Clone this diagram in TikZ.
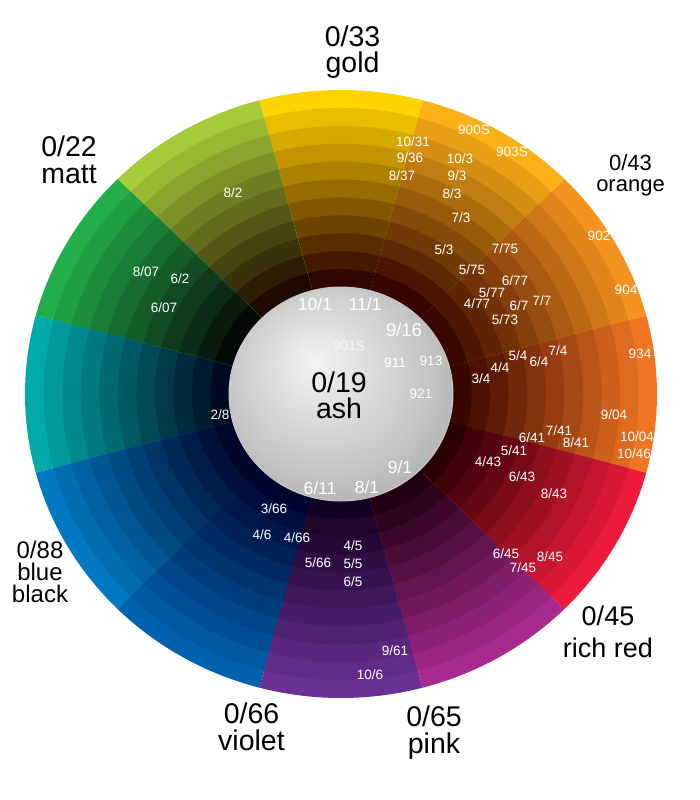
\documentclass[tikz,border=0pt]{standalone}
\usepackage{fontspec}
\setmainfont{Liberation Sans}
\lineskiplimit=-100pt

\definecolor{orgout}{HTML}{F07522}\definecolor{orgin}{HTML}{3A0600}
\definecolor{ornout}{HTML}{F4921F}\definecolor{ornin}{HTML}{3A0800}
\definecolor{ambout}{HTML}{FAB118}\definecolor{ambin}{HTML}{360500}
\definecolor{gldout}{HTML}{FFD200}\definecolor{gldin}{HTML}{300400}
\definecolor{ygrout}{HTML}{A6CB3A}\definecolor{ygrin}{HTML}{200A00}
\definecolor{grnout}{HTML}{23AE4A}\definecolor{grnin}{HTML}{060A06}
\definecolor{tealout}{HTML}{00AAAA}\definecolor{tealin}{HTML}{000A20}
\definecolor{bluout}{HTML}{0079C0}\definecolor{bluin}{HTML}{00052A}
\definecolor{bldout}{HTML}{0062AE}\definecolor{bldin}{HTML}{000530}
\definecolor{vioout}{HTML}{6A3096}\definecolor{vioin}{HTML}{140020}
\definecolor{magout}{HTML}{A72A8E}\definecolor{magin}{HTML}{200012}
\definecolor{redout}{HTML}{EC1B3B}\definecolor{redin}{HTML}{2C0002}
\definecolor{ashhi}{HTML}{F4F4F4}\definecolor{ashmid}{HTML}{C6C6C6}
\definecolor{ashlo}{HTML}{868686}

\pgfdeclareradialshading{ashball}{\pgfpoint{-6bp}{8bp}}{color(0bp)=(ashhi); color(22bp)=(ashmid); color(50bp)=(ashlo)}

\begin{document}
\begin{tikzpicture}[x=1pt,y=-1pt,
hue label/.style = {inner sep=0pt, anchor=north, align=center, text=black},
code label/.style = {inner sep=0pt, text=white, font=\fontsize{13.5}{15}\selectfont},
big code/.style = {inner sep=0pt, text=white, font=\fontsize{17.5}{19}\selectfont}]

\useasboundingbox (0,0) rectangle (700,800);

% the wheel: twelve hues, eleven tones each
\begin{scope}[shift={(341,394)},yscale=-1]
\foreach \s/\co/\ci in {0/orgout/orgin,1/ornout/ornin,2/ambout/ambin,3/gldout/gldin,
  4/ygrout/ygrin,5/grnout/grnin,6/tealout/tealin,7/bluout/bluin,
  8/bldout/bldin,9/vioout/vioin,10/magout/magin,11/redout/redin}{
  \foreach \k in {11,10,...,1}{
    \pgfmathsetmacro\rx{112+\k*204/11}
    \pgfmathsetmacro\ry{107+\k*197/11}
    \pgfmathtruncatemacro\p{(\k-1)*10}
    \pgfmathsetmacro\a{\s*30-15}
    \fill[\co!\p!\ci] (0,0) -- ({\a}:{\rx} and {\ry})
      arc[start angle=\a, delta angle=30, x radius=\rx, y radius=\ry] -- cycle;
  }
}
% ash centre
\shade[shading=ashball] (0,0) ellipse[x radius=112, y radius=107];
\draw[gray!45, line width=1] (0,0) ellipse[x radius=112, y radius=107];
\end{scope}

% hue names
\node[hue label, font=\fontsize{28.5}{26}\selectfont] (gold) at (352.5,26) {0/33\\gold};
\node[hue label, font=\fontsize{28.5}{27}\selectfont] (matt) at (69,136) {0/22\\matt};
\node[hue label, font=\fontsize{22}{21}\selectfont] (orange) at (630.5,154.5) {0/43\\orange};
\node[hue label, font=\fontsize{27}{32}\selectfont] (richred) at (608,605.5) {0/45\\rich red};
\node[hue label, font=\fontsize{28.5}{27}\selectfont] (pink) at (434,706) {0/65\\pink};
\node[hue label, font=\fontsize{28.5}{27}\selectfont] (violet) at (251.5,703) {0/66\\violet};
\node[hue label, font=\fontsize{24}{22}\selectfont] (blueblack) at (40,540.5) {0/88\\blue\\black};
\node[hue label, font=\fontsize{28.5}{26}\selectfont] (ash) at (339,371.5) {0/19\\ash};

% shade codes
\node[code label] (c900S) at (474,130) {900S};
\node[code label] (c903S) at (512,152) {903S};
\node[code label] (c10-31) at (413,142) {10/31};
\node[code label] (c9-36) at (410,158) {9/36};
\node[code label] (c8-37) at (402,176) {8/37};
\node[code label] (c10-3) at (460,159) {10/3};
\node[code label] (c9-3) at (457,176) {9/3};
\node[code label] (c8-3) at (452,194) {8/3};
\node[code label] (c7-3) at (461,218) {7/3};
\node[code label] (c5-3) at (444,250) {5/3};
\node[code label] (c7-75) at (505,249) {7/75};
\node[code label] (c5-75) at (472,270) {5/75};
\node[code label] (c6-77) at (515,281) {6/77};
\node[code label] (c5-77) at (492,293) {5/77};
\node[code label] (c4-77) at (477,304) {4/77};
\node[code label] (c6-7) at (519,306) {6/7};
\node[code label] (c7-7) at (542,301) {7/7};
\node[code label] (c5-73) at (505,320) {5/73};
\node[code label] (c902) at (599,236) {902};
\node[code label] (c904) at (626,290) {904};
\node[code label] (c934) at (640,354) {934};
\node[code label] (c7-4) at (558,351) {7/4};
\node[code label] (c5-4) at (518,356) {5/4};
\node[code label] (c6-4) at (539,362) {6/4};
\node[code label] (c4-4) at (500,368) {4/4};
\node[code label] (c3-4) at (481,379) {3/4};
\node[code label] (c9-04) at (614,415) {9/04};
\node[code label] (c10-04) at (637,437) {10/04};
\node[code label] (c10-46) at (634,454) {10/46};
\node[code label] (c7-41) at (559,431) {7/41};
\node[code label] (c6-41) at (532,438) {6/41};
\node[code label] (c8-41) at (576,443) {8/41};
\node[code label] (c5-41) at (514,451) {5/41};
\node[code label] (c4-43) at (488,462) {4/43};
\node[code label] (c6-43) at (522,477) {6/43};
\node[code label] (c8-43) at (554,494) {8/43};
\node[code label] (c6-45) at (506,554) {6/45};
\node[code label] (c8-45) at (550,557) {8/45};
\node[code label] (c7-45) at (523,568) {7/45};
\node[code label] (c9-61) at (395,651) {9/61};
\node[code label] (c10-6) at (370,675) {10/6};
\node[code label] (c4-5) at (353,546) {4/5};
\node[code label] (c5-5) at (353,564) {5/5};
\node[code label] (c6-5) at (353,582) {6/5};
\node[code label] (c5-66) at (318,563) {5/66};
\node[code label] (c4-66) at (297,538) {4/66};
\node[code label] (c4-6) at (262,535) {4/6};
\node[code label] (c3-66) at (274,509) {3/66};
\node[code label] (c2-8) at (220,415) {2/8};
\node[code label] (c6-07) at (164,308) {6/07};
\node[code label] (c8-07) at (146,272) {8/07};
\node[code label] (c6-2) at (180,279) {6/2};
\node[code label] (c8-2) at (233,193) {8/2};

% codes on the ash ball
\node[big code] (c10-1) at (315,304) {10/1};
\node[big code] (c11-1) at (365,304) {11/1};
\node[big code,font=\fontsize{18.5}{20}\selectfont] (c9-16) at (404,330) {9/16};
\node[code label,text=white!92!gray] (c901S) at (349,346) {901S};
\node[code label] (c911) at (395,363) {911};
\node[code label] (c913) at (431,361) {913};
\node[code label] (c921) at (421,394) {921};
\node[big code] (c9-1) at (400,467) {9/1};
\node[big code] (c6-11) at (320,488) {6/11};
\node[big code] (c8-1) at (367,487) {8/1};
\end{tikzpicture}
\end{document}
